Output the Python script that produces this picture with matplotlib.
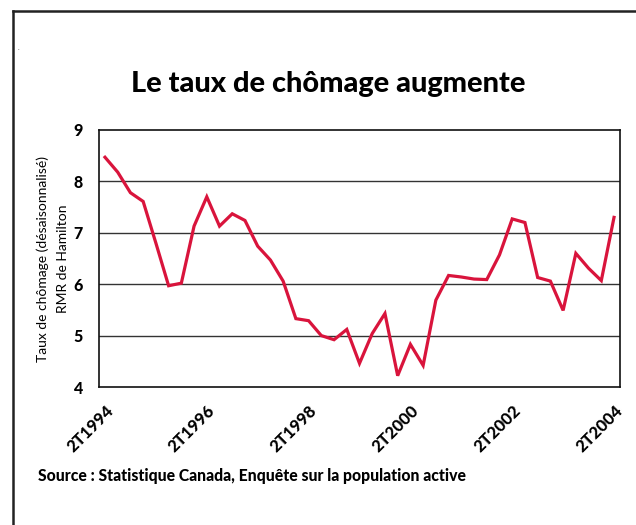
import matplotlib
matplotlib.use("Agg")
import matplotlib.pyplot as plt
from matplotlib.lines import Line2D

plt.rcParams['font.family'] = ['Lato', 'DejaVu Sans']

# Quarterly unemployment rate, Hamilton CMA, 2T1994 .. 2T2004
rates = [8.47, 8.18, 7.78, 7.61, 6.80, 5.97, 6.02, 7.13, 7.70, 7.13,
         7.37, 7.24, 6.74, 6.47, 6.06, 5.33, 5.29, 5.00, 4.92, 5.12,
         4.46, 5.04, 5.43, 4.22, 4.83, 4.42, 5.69, 6.17, 6.14, 6.10,
         6.09, 6.57, 7.27, 7.20, 6.13, 6.06, 5.49, 6.60, 6.31, 6.07,
         7.30]
tick_labels = ["2T1994", "2T1996", "2T1998", "2T2000", "2T2002", "2T2004"]
tick_positions = [0, 8, 16, 24, 32, 40]
y_ticks = [4, 5, 6, 7, 8, 9]

title = "Le taux de chômage augmente"
ylabel = "Taux de chômage (désaisonnalisé)\nRMR de Hamilton"
source = "Source : Statistique Canada, Enquête sur la population active"

fig = plt.figure(figsize=(6.36, 5.25), dpi=100)
W, H = 636, 525
ax = fig.add_axes([99 / W, 1 - 387 / H, (620 - 99) / W, (387 - 130) / H])

x = list(range(len(rates)))
ax.plot(x, rates, color="#d9143c", lw=2.3, solid_joinstyle="miter", zorder=3)

ax.set_xlim(-0.47, 40.47)
ax.set_ylim(4, 9)
ax.set_yticks(y_ticks)
ax.set_yticklabels([str(v) for v in y_ticks], fontsize=11.5, fontweight="black")
ax.set_xticks(tick_positions)
ax.set_xticklabels(tick_labels, fontsize=12, fontweight="black", rotation=45,
                   ha="right", va="top", rotation_mode="anchor")
ax.tick_params(axis="both", length=0)
ax.tick_params(axis="y", pad=12)
ax.tick_params(axis="x", pad=11)
for s in ax.spines.values():
    s.set_color("#111111")
    s.set_linewidth(1.2)
for v in y_ticks[1:-1]:
    ax.axhline(v, color="#333333", lw=1.0, zorder=1)

ax.set_ylabel(ylabel, fontsize=10, labelpad=3, linespacing=1.75)

fig.text(328 / W, 1 - 92 / H, title, fontsize=20.8, fontweight="black",
         ha="center", va="baseline")
fig.text(38 / W, 1 - 476 / H, source, fontsize=11.3, fontweight="black",
         ha="left", va="center")
fig.text(18 / W, 1 - 47 / H, ".", fontsize=5, color="#666666",
         ha="center", va="center")

# Outer frame (top and left edges)
fig.add_artist(Line2D([13 / W, 13 / W], [0, 1 - 11 / H], transform=fig.transFigure,
                      color="#222222", lw=1.8))
fig.add_artist(Line2D([13 / W, 1], [1 - 11 / H, 1 - 11 / H], transform=fig.transFigure,
                      color="#222222", lw=1.8))

fig.savefig("out.png", dpi=100)
